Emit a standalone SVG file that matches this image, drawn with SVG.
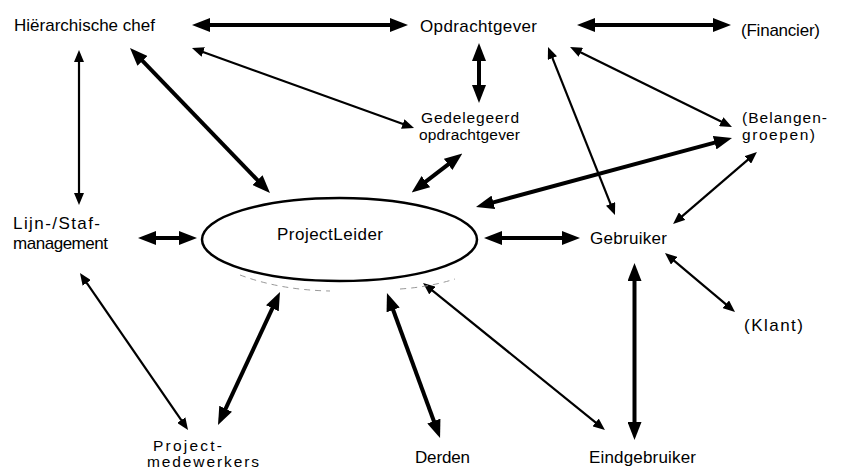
<svg xmlns="http://www.w3.org/2000/svg" width="841" height="471" viewBox="0 0 841 471">
  <style>
    .lbl { font-family: "Liberation Sans", Arial, sans-serif; font-size: 17px; fill: #000; }
    .two { font-size: 15.5px; }
    .thick { stroke: #000; stroke-width: 4; fill: none; marker-start: url(#headL); marker-end: url(#headL); }
    .thin { stroke: #000; stroke-width: 2.2; fill: none; marker-start: url(#headS); marker-end: url(#headS); }
  </style>
  <defs>
    <marker id="headL" viewBox="0 0 18 14" markerWidth="18" markerHeight="14" refX="1" refY="7" orient="auto-start-reverse" markerUnits="userSpaceOnUse">
      <path d="M0,0 L18,7 L0,14 z" fill="#000"/>
    </marker>
    <marker id="headS" viewBox="0 0 12 10" markerWidth="12" markerHeight="10" refX="1" refY="5" orient="auto-start-reverse" markerUnits="userSpaceOnUse">
      <path d="M0,0 L12,5 L0,10 z" fill="#000"/>
    </marker>
  </defs>
  <rect width="841" height="471" fill="#fff"/>

  <!-- connectors: thick and thin double-headed arrows -->
  <g id="connectors">
    <line class="thick" x1="209" y1="25" x2="391" y2="25"/>
    <line class="thick" x1="594" y1="25" x2="714" y2="25"/>
    <line class="thin" x1="79" y1="61" x2="79" y2="194"/>
    <line class="thick" x1="141.8" y1="60.2" x2="258.2" y2="180.8"/>
    <line class="thin" x1="202.3" y1="51.7" x2="403.7" y2="124.3"/>
    <line class="thick" x1="479" y1="60" x2="479" y2="86"/>
    <line class="thin" x1="552.1" y1="57.2" x2="610.9" y2="204.8"/>
    <line class="thin" x1="579.9" y1="51.9" x2="722.1" y2="122.1"/>
    <line class="thick" x1="425.1" y1="182.2" x2="448.9" y2="163.8"/>
    <line class="thick" x1="492.4" y1="202.6" x2="715.6" y2="142.4"/>
    <line class="thin" x1="748.6" y1="159.2" x2="681.4" y2="216.8"/>
    <line class="thick" x1="155" y1="238" x2="180" y2="238"/>
    <line class="thick" x1="501" y1="238" x2="563" y2="238"/>
    <line class="thin" x1="673.4" y1="260.1" x2="726.6" y2="304.9"/>
    <line class="thick" x1="634.5" y1="280" x2="634.5" y2="423"/>
    <line class="thin" x1="86.2" y1="282.1" x2="181.8" y2="420.9"/>
    <line class="thick" x1="225.2" y1="409.6" x2="272.8" y2="307.4"/>
    <line class="thick" x1="392.8" y1="309" x2="434.2" y2="422"/>
    <line class="thin" x1="431.6" y1="289.9" x2="596.4" y2="423.1"/>
  </g>

  <!-- central node -->
  <g id="projectleider">
    <path d="M240,275 Q280,290 330,291 M400,289 Q430,287 455,279" fill="none" stroke="#999" stroke-width="1" stroke-dasharray="6 5"/>
    <ellipse cx="339.5" cy="239.5" rx="137.5" ry="41.5" fill="#fff" stroke="#000" stroke-width="2.5"/>
    <text class="lbl" x="277" y="240" font-size="18" textLength="106">ProjectLeider</text>
  </g>

  <g id="hierarchische-chef"><text class="lbl" x="14" y="31" textLength="141">Hiërarchische chef</text></g>
  <g id="opdrachtgever"><text class="lbl" x="420" y="32" textLength="117">Opdrachtgever</text></g>
  <g id="financier"><text class="lbl" x="741" y="36" textLength="79">(Financier)</text></g>
  <g id="gedelegeerd-opdrachtgever">
    <text class="lbl two" x="421" y="123" textLength="98">Gedelegeerd</text>
    <text class="lbl two" x="419" y="140" textLength="101">opdrachtgever</text>
  </g>
  <g id="belangengroepen">
    <text class="lbl two" x="742" y="123" textLength="85">(Belangen-</text>
    <text class="lbl two" x="742" y="140" textLength="73">groepen)</text>
  </g>
  <g id="lijn-staf-management">
    <text class="lbl" x="13" y="229" textLength="87">Lijn-/Staf-</text>
    <text class="lbl" x="13" y="249" textLength="95">management</text>
  </g>
  <g id="gebruiker"><text class="lbl" x="590" y="244" textLength="77">Gebruiker</text></g>
  <g id="klant"><text class="lbl" x="744" y="331" textLength="59">(Klant)</text></g>
  <g id="projectmedewerkers">
    <text class="lbl two" x="153" y="451" textLength="69">Project-</text>
    <text class="lbl two" x="147" y="467" textLength="112">medewerkers</text>
  </g>
  <g id="derden"><text class="lbl" x="415" y="463" textLength="55">Derden</text></g>
  <g id="eindgebruiker"><text class="lbl" x="589" y="463" textLength="107">Eindgebruiker</text></g>
</svg>
